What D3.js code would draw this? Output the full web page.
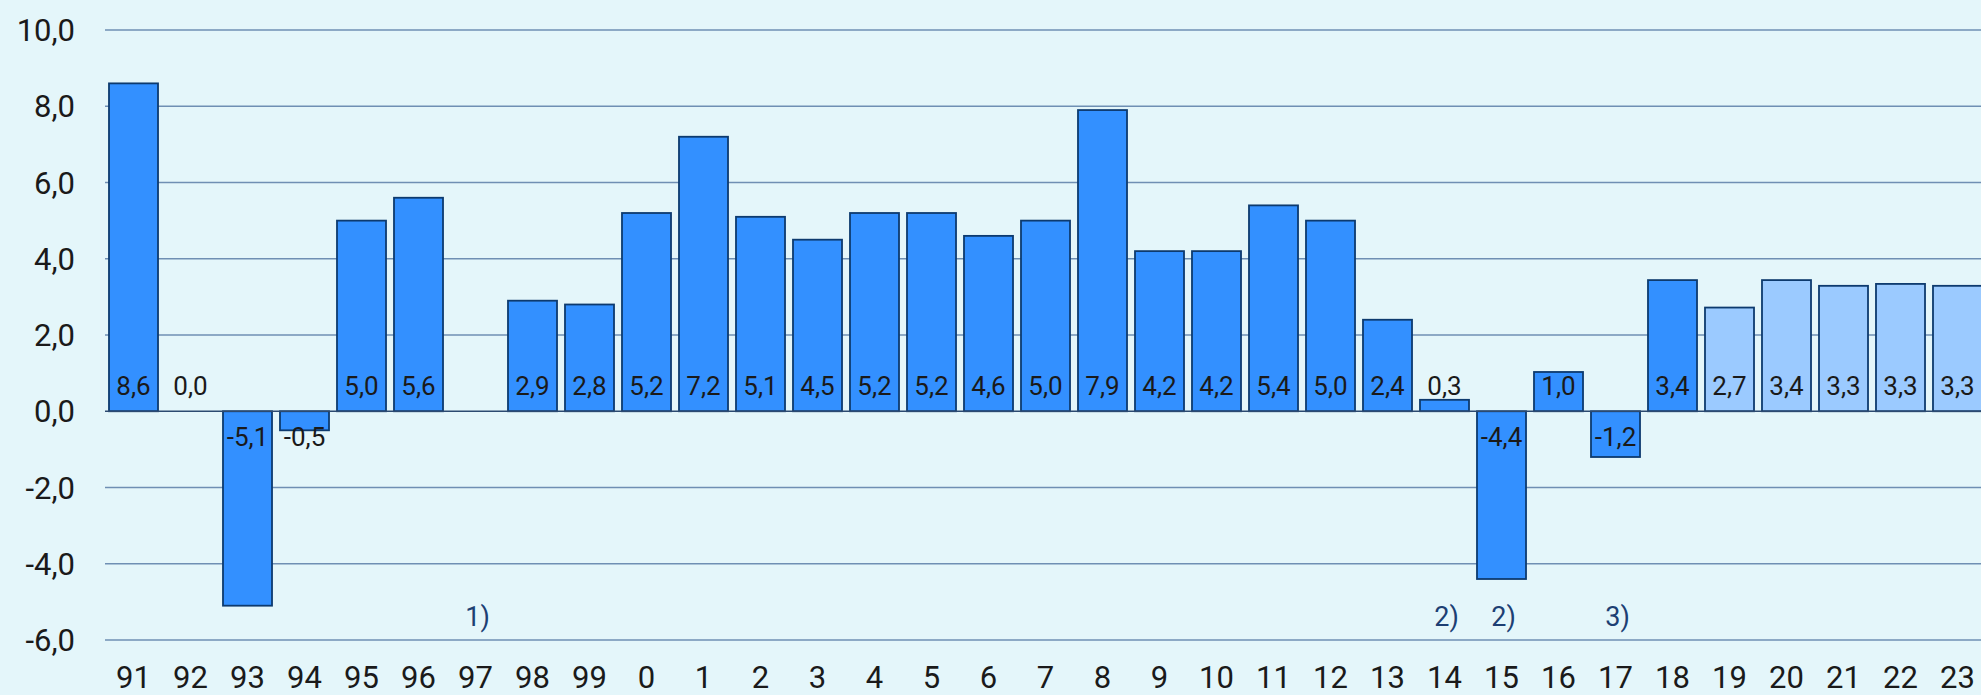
<!DOCTYPE html>
<html><head><meta charset="utf-8">
<script src="https://cdn.jsdelivr.net/npm/d3@7/dist/d3.min.js"></script>
<style>
html,body{margin:0;padding:0;background:#e4f6fa;}
svg{display:block;}
text{font-family:Roboto,"Noto Sans",sans-serif;}
</style></head><body>
<svg id="c" width="1981" height="695"></svg>
<script>
const categories = ["91","92","93","94","95","96","97","98","99","0","1","2","3","4","5","6","7","8","9","10","11","12","13","14","15","16","17","18","19","20","21","22","23"];
const values = [8.6,0.0,-5.1,-0.5,5.0,5.6,null,2.9,2.8,5.2,7.2,5.1,4.5,5.2,5.2,4.6,5.0,7.9,4.2,4.2,5.4,5.0,2.4,0.3,-4.4,1.03,-1.2,3.44,2.72,3.44,3.29,3.34,3.29];
const forecast = ["19","20","21","22","23"];
const footnotes = [{cat:"97",text:"1)"},{cat:"14",text:"2)"},{cat:"15",text:"2)"},{cat:"17",text:"3)"}];
const yTicks = [-6,-4,-2,0,2,4,6,8,10];

const svg = d3.select("#c");
const W = 1981, H = 695;
const x = d3.scaleBand().domain(categories).range([105, 1986]).paddingInner(0.14).paddingOuter(0.07);
const y = d3.scaleLinear().domain([-6, 10]).range([640, 30]);
const fmt = v => d3.format(".1f")(v).replace(".", ",").replace("\u2212", "-");

// gridlines
svg.append("g").selectAll("line").data(yTicks.filter(d => d !== 0)).join("line")
  .attr("x1", 105).attr("x2", W).attr("y1", d => y(d)).attr("y2", d => y(d))
  .attr("stroke", "#6f8fb3").attr("stroke-width", 1.5);

// y axis labels
svg.append("g").selectAll("text").data(yTicks).join("text")
  .attr("x", 75).attr("y", d => y(d)).attr("dy", "0.36em")
  .attr("text-anchor", "end").attr("font-size", 31).attr("fill", "#1a1a1a")
  .text(d => fmt(d));

// bars
const data = categories.map((c, i) => ({c, v: values[i]})).filter(d => d.v !== null && d.v !== 0);
svg.append("g").selectAll("rect").data(data).join("rect")
  .attr("x", d => x(d.c)).attr("width", x.bandwidth())
  .attr("y", d => y(Math.max(0, d.v))).attr("height", d => Math.abs(y(d.v) - y(0)))
  .attr("fill", d => forecast.includes(d.c) ? "#9bcaff" : "#3390ff")
  .attr("stroke", "#0d3a6e").attr("stroke-width", 1.8);

// zero line
svg.append("line").attr("x1", 105).attr("x2", W).attr("y1", y(0)).attr("y2", y(0))
  .attr("stroke", "#2c4a70").attr("stroke-width", 1.5);

// value labels
const lab = categories.map((c, i) => ({c, v: values[i]})).filter(d => d.v !== null);
svg.append("g").selectAll("text").data(lab).join("text")
  .attr("x", d => x(d.c) + x.bandwidth() / 2)
  .attr("y", d => d.v < 0 ? y(0) + 35 : y(0) - 16)
  .attr("text-anchor", "middle").attr("font-size", 26).attr("fill", "#1a1a1a")
  .text(d => fmt(d.v));

// footnotes
svg.append("g").selectAll("text").data(footnotes).join("text")
  .attr("x", d => x(d.cat) + x.bandwidth() / 2 + 2).attr("y", 626)
  .attr("text-anchor", "middle").attr("font-size", 27).attr("fill", "#1d3f73")
  .text(d => d.text);

// x axis labels
svg.append("g").selectAll("text").data(categories).join("text")
  .attr("x", d => x(d) + x.bandwidth() / 2).attr("y", 688)
  .attr("text-anchor", "middle").attr("font-size", 31).attr("fill", "#1a1a1a")
  .text(d => d);
</script>
</body></html>
